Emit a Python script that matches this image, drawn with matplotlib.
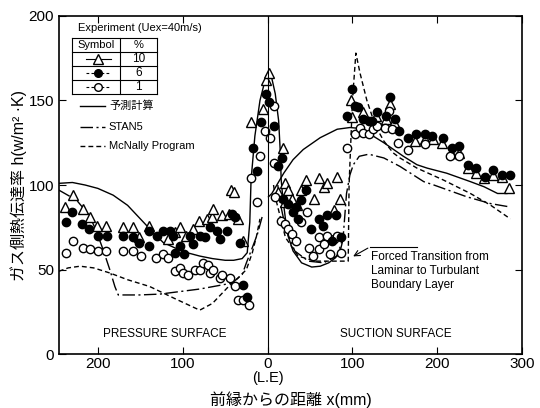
import matplotlib
matplotlib.use("Agg")
import matplotlib.pyplot as plt
import matplotlib.transforms as mtransforms

plt.rcParams['font.family'] = ['Liberation Sans', 'Noto Sans CJK JP']

# distance from leading edge, pressure surface taken as negative x
tick_pos = [-200, -100, 0, 100, 200, 300]
tick_lbl = ['200', '100', '0', '100', '200', '300']

# measured heat transfer, Tu = 10 %
tu10_x = [-239, -229, -218, -209, -201, -190, -170, -159, -151, -140, -117, -109, -103, -96,
          -88, -81, -72, -66, -64, -54, -46, -43, -40, -35, -29,
          -20, -6, -2, 2, 18,
          12, 21, 24, 20, 29, 35, 39, 45, 55, 61, 67, 70, 78, 82, 85,
          98, 99, 113, 128, 139, 144, 149, 174, 185, 195, 206, 216, 226, 236, 245, 255, 266, 276, 285]
tu10_y = [87, 94, 86, 81, 76, 76, 75, 75, 69, 76, 68, 72, 75, 70,
          74, 79, 80, 81, 86, 82, 83, 97, 96, 80, 67,
          137, 145, 162, 166, 122,
          96, 101, 97, 90, 92, 88, 97, 103, 92, 104, 99, 101, 85, 105, 92,
          150, 140, 143, 141, 139, 148, 137, 126, 127, 127, 125, 119, 119, 110, 107, 104, 106, 105, 98]

# Tu = 6 %
tu6_x = [-237, -230, -219, -210, -200, -189, -170, -159, -151, -140, -140, -130, -123, -115,
         -111, -109, -103, -98, -92, -88, -80, -74, -68, -60, -56, -48, -42, -38, -32, -29, -24,
         -17, -13, -8, -2, 2, 8, 12, 17,
         18, 24, 30, 33, 36, 39, 45, 51, 61, 65, 70, 81, 76, 87,
         93, 100, 103, 107, 113, 119, 123, 129, 139, 144, 150, 155, 165, 175, 185, 194, 207,
         217, 226, 236, 246, 256, 266, 276, 286]
tu6_y = [78, 84, 77, 74, 70, 70, 70, 69, 66, 64, 73, 70, 73, 73,
         70, 60, 64, 59, 70, 65, 70, 69, 75, 73, 68, 73, 83, 81, 66, 41, 34,
         122, 108, 137, 154, 149, 135, 111, 116,
         92, 89, 84, 87, 80, 91, 97, 74, 80, 76, 82, 82, 67, 69,
         141, 157, 147, 146, 139, 138, 138, 143, 141, 152, 139, 132, 128, 130, 130, 129, 128,
         122, 123, 112, 110, 105, 109, 106, 106]

# Tu = 1 %
tu1_x = [-237, -229, -218, -209, -200, -190, -170, -159, -149, -131, -123, -117, -109, -103,
         -100, -94, -86, -80, -76, -70, -68, -64, -56, -54, -44, -38, -35, -29, -22,
         -19, -13, -9, -3, 3, 7, 7,
         9, 16, 21, 24, 29, 34, 39, 46, 49, 54, 60, 60, 66, 70, 74, 78, 82, 87,
         93, 103, 109, 113, 120, 124, 129, 138, 143, 147, 154, 165, 185, 215, 226]
tu1_y = [60, 67, 63, 62, 61, 61, 61, 61, 58, 57, 59, 57, 49, 51,
         48, 47, 50, 50, 54, 53, 48, 50, 45, 47, 45, 40, 32, 32, 29,
         104, 90, 117, 132, 128, 147, 113,
         93, 79, 77, 74, 71, 67, 78, 84, 63, 58, 69, 62, 65, 70, 59, 68, 70, 60,
         122, 130, 134, 131, 130, 133, 135, 134, 144, 133, 125, 121, 124, 117, 117]

# prediction (solid), pressure side through the leading edge into the laminar trough
pred_a_x = [-246, -230, -215, -200, -182, -165, -150, -135, -123, -110, -95, -80, -65, -50, -40,
            -30, -24, -21, -19.5, -15, -9, -3, 1, 5, 9, 13, 15, 16, 18, 21, 24, 30, 40, 52, 62,
            72, 80, 86, 89]
pred_a_y = [101, 101.5, 100, 98, 94, 88, 80, 72, 66, 63, 60, 58, 56.5, 55.5, 55.5,
            56.5, 60, 78, 103, 129, 150, 162, 166, 163, 154, 138, 119, 103, 92, 80, 70, 61, 54, 51.5, 52,
            54, 57, 62, 68]
# prediction, suction side turbulent branch
pred_b_x = [1, 5, 12, 19, 30, 42, 62, 82, 97, 108, 121, 137, 160, 176, 188, 211, 239, 255, 271, 282]
pred_b_y = [93, 95, 101, 107, 115, 121, 128, 133, 134, 133.5, 130, 125, 117, 112, 110, 107, 102, 99, 95, 95]

# STAN5 (dash-dot)
stan_p_x = [-246, -225, -210, -202, -194, -186, -180, -176, -151, -127, -80, -42, -30, -25, -18, -12, -6]
stan_p_y = [97, 91, 82, 73, 62, 50, 40, 35, 35, 35.5, 38.5, 42, 47, 54, 63, 71, 82]
stan_s_x = [12, 15, 21, 32, 48, 66, 82, 89, 93, 97, 101, 108, 117, 121, 137, 156, 184, 196, 235, 263, 286]
stan_s_y = [100, 89, 75, 61, 55, 54, 58, 69, 95, 106, 112, 117, 118, 118, 116, 111, 102, 100, 93, 89, 87]

# McNally program (dashed)
mcn_p_x = [-246, -235, -221, -205, -186, -165, -139, -110, -80, -65, -46, -35, -25, -18, -13, -9]
mcn_p_y = [49, 51, 52, 51, 48, 44, 40, 33, 26, 30, 40, 45, 50, 60, 70, 80]
mcn_s_x = [7, 9, 21, 36, 56, 95, 96, 100, 104, 109, 117, 127, 137, 148, 156, 176, 207, 239, 263, 286]
mcn_s_y = [100, 93, 69, 58, 55, 55, 100, 150, 178, 166, 150, 135, 126, 119, 116, 110, 103, 95, 88, 80]

fig = plt.figure(figsize=(5.4, 4.08), dpi=100)
ax = fig.add_axes([0.109, 0.132, 0.858, 0.829])

lw = 1.0
dashdot = (0, (9, 2.5, 1.5, 2.5))
dashed = (0, (3.5, 2.2))
ax.plot(pred_a_x, pred_a_y, color='k', lw=lw)
ax.plot(pred_b_x, pred_b_y, color='k', lw=lw)
ax.plot(stan_p_x, stan_p_y, color='k', lw=lw, linestyle=dashdot)
ax.plot(stan_s_x, stan_s_y, color='k', lw=lw, linestyle=dashdot)
ax.plot(mcn_p_x, mcn_p_y, color='k', lw=lw, linestyle=dashed)
ax.plot(mcn_s_x, mcn_s_y, color='k', lw=lw, linestyle=dashed)

ax.plot(tu10_x, tu10_y, linestyle='none', marker='^', ms=7, mfc='white', mec='k', mew=1.0)
ax.plot(tu1_x, tu1_y, linestyle='none', marker='o', ms=6, mfc='white', mec='k', mew=1.0)
ax.plot(tu6_x, tu6_y, linestyle='none', marker='o', ms=6, mfc='k', mec='k', mew=1.0)

# leading edge line
ax.axvline(0, color='k', lw=0.8)

ax.set_xlim(-246, 300)
ax.set_ylim(0, 200)
ax.set_xticks(tick_pos)
ax.set_xticklabels(tick_lbl)
ax.set_yticks([0, 50, 100, 150, 200])
ax.tick_params(direction='in', top=True, right=True, length=5, width=0.8, labelsize=11)
ax.tick_params(axis='x', pad=2)
for s in ax.spines.values():
    s.set_linewidth(1.2)

ax.set_ylabel('ガス側熱伝達率 h(w/m² ·K)', fontsize=11.5, labelpad=1)
ax.set_xlabel('前縁からの距離 x(mm)', fontsize=11.5, labelpad=15)
trans = mtransforms.blended_transform_factory(ax.transData, ax.transAxes)
ax.text(0, -0.07, '(L.E)', transform=trans, ha='center', va='center', fontsize=10.5)

ax.text(-121, 12, 'PRESSURE SURFACE', ha='center', va='center', fontsize=8.5)
ax.text(151, 12, 'SUCTION SURFACE', ha='center', va='center', fontsize=8.5)

# forced transition note
ax.plot([121, 176], [63.5, 63.5], color='k', lw=0.8)
ax.annotate('', xy=(98, 57), xytext=(121, 63.5),
            arrowprops=dict(arrowstyle='->', color='k', lw=0.8))
ax.text(122, 61, 'Forced Transition from\nLaminar to Turbulant\nBoundary Layer',
        ha='left', va='top', fontsize=8.5, linespacing=1.2)

# experiment key table
T = ax.transAxes
ax.text(0.041, 0.964, 'Experiment (Uex=40m/s)', transform=T, ha='left', va='center', fontsize=8)
x0, x1, xm = 0.028, 0.212, 0.132
rows = [0.936, 0.894, 0.852, 0.811, 0.769]
for yy in rows:
    ax.plot([x0, x1], [yy, yy], transform=T, color='k', lw=0.8)
ax.plot([x0, x0], [rows[0], rows[-1]], transform=T, color='k', lw=0.8)
ax.plot([x1, x1], [rows[0], rows[-1]], transform=T, color='k', lw=0.8)
ax.plot([xm, xm], [rows[0], rows[-1]], transform=T, color='k', lw=0.8)
ax.text((x0 + xm) / 2, (rows[0] + rows[1]) / 2, 'Symbol', transform=T, ha='center', va='center', fontsize=8)
ax.text((xm + x1) / 2, (rows[0] + rows[1]) / 2, '%', transform=T, ha='center', va='center', fontsize=8)
keys = [('^', 'white', '-', '10'), ('o', 'k', (0, (2.5, 2)), '6'), ('o', 'white', (0, (2.5, 2)), '1')]
for i, (mk, fc, ls, pct) in enumerate(keys):
    yc = (rows[i + 1] + rows[i + 2]) / 2
    ax.plot([0.058, 0.112], [yc, yc], transform=T, color='k', lw=0.8, linestyle=ls)
    ax.plot([0.085], [yc], transform=T, marker=mk, ms=6.5 if mk == '^' else 5.5,
            mfc=fc, mec='k', mew=1.0, linestyle='none')
    ax.text((xm + x1) / 2, yc, pct, transform=T, ha='center', va='center', fontsize=8.5)

# line key
key_lines = [('-', '予測計算', 0.734), (dashdot, 'STAN5', 0.672), (dashed, 'McNally Program', 0.615)]
for ls, lbl, yy in key_lines:
    ax.plot([0.045, 0.099], [yy, yy], transform=T, color='k', lw=lw, linestyle=ls)
    ax.text(0.108, yy, lbl, transform=T, ha='left', va='center', fontsize=8)

fig.savefig('out.png', dpi=100)
